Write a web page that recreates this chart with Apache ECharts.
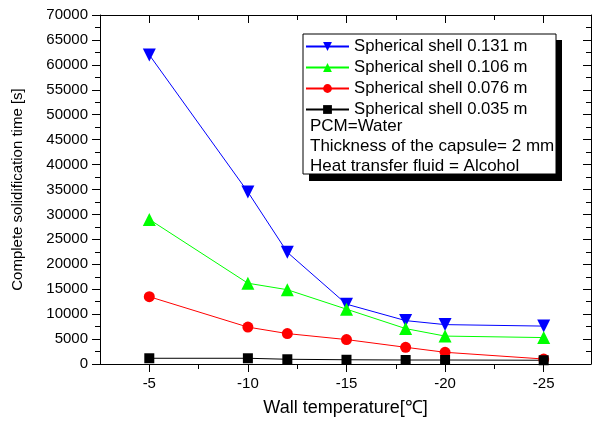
<!DOCTYPE html>
<html>
<head>
<meta charset="utf-8">
<script src="https://cdn.jsdelivr.net/npm/echarts@6/dist/echarts.min.js"></script>
<style>
  html, body { margin: 0; padding: 0; background: #fff; }
  #chart { width: 592px; height: 421px; }
</style>
</head>
<body>
<div id="chart"></div>
<script>
// wall temperatures (°C)
const temps = [-5, -10, -12, -15, -18, -20, -25];
const majorTicks = [-5, -10, -15, -20, -25];
const minorTicks = [-7.5, -12.5, -17.5, -22.5];

// complete solidification time [s]
const shell131 = [62000, 34500, 22400, 12000, 8700, 7900, 7600];
const shell106 = [29000, 16200, 14900, 11000, 7100, 5600, 5300];
const shell076 = [13500, 7400, 6100, 4900, 3350, 2350, 1000];
const shell035 = [1150, 1150, 950, 850, 800, 800, 750];

const seriesNames = ['Spherical shell 0.131 m', 'Spherical shell 0.106 m', 'Spherical shell 0.076 m', 'Spherical shell 0.035 m'];
const notes = ['PCM=Water', 'Thickness of the capsule= 2 mm', 'Heat transfer fluid = Alcohol'];

const font = "'Liberation Sans', Arial, sans-serif";
const xMin = -27.4, xMax = -2.5;

function pairs(vals) {
  return temps.map((t, i) => [t, vals[i]]);
}

const chart = echarts.init(document.getElementById('chart'));

const baseX = {
  type: 'value', min: xMin, max: xMax, inverse: true,
  splitLine: { show: false },
  axisLine: { lineStyle: { color: '#000', width: 1 } }
};

const option = {
  animation: false,
  textStyle: { fontFamily: font },
  grid: { left: 100, top: 15, width: 491, height: 349, outerBoundsMode: 'none', containLabel: false },
  xAxis: [
    Object.assign({}, baseX, {
      position: 'bottom',
      name: 'Wall temperature[\u2103]',
      nameLocation: 'middle', nameGap: 35,
      nameTextStyle: { color: '#000', fontSize: 18, fontFamily: font },
      axisTick: { customValues: majorTicks, length: 8, lineStyle: { color: '#000' } },
      axisLabel: { customValues: majorTicks, color: '#000', fontSize: 15, fontFamily: font, margin: 12 }
    }),
    Object.assign({}, baseX, {
      position: 'bottom',
      axisLine: { show: false },
      axisTick: { customValues: minorTicks, length: 5, lineStyle: { color: '#000' } },
      axisLabel: { show: false }
    }),
    Object.assign({}, baseX, {
      position: 'top',
      axisTick: { customValues: majorTicks, inside: true, length: 8, lineStyle: { color: '#000' } },
      axisLabel: { show: false }
    }),
    Object.assign({}, baseX, {
      position: 'top',
      axisLine: { show: false },
      axisTick: { customValues: minorTicks, inside: true, length: 5, lineStyle: { color: '#000' } },
      axisLabel: { show: false }
    })
  ],
  yAxis: [
    {
      type: 'value', min: 0, max: 70000, interval: 5000, position: 'left',
      name: 'Complete solidification time [s]',
      nameLocation: 'middle', nameGap: 75, nameRotate: 90,
      nameTextStyle: { color: '#000', fontSize: 15, fontFamily: font },
      splitLine: { show: false },
      axisLine: { show: true, lineStyle: { color: '#000' } },
      axisTick: { length: 8, lineStyle: { color: '#000' } },
      minorTick: { show: true, splitNumber: 2, length: 5, lineStyle: { color: '#000' } },
      axisLabel: { color: '#000', fontSize: 15, fontFamily: font, margin: 12, formatter: v => String(v) }
    },
    {
      type: 'value', min: 0, max: 70000, interval: 5000, position: 'right',
      splitLine: { show: false },
      axisLine: { show: true, lineStyle: { color: '#000' } },
      axisTick: { inside: true, length: 8, lineStyle: { color: '#000' } },
      minorTick: { show: true, splitNumber: 2, length: 5, lineStyle: { color: '#000' } },
      axisLabel: { show: false }
    }
  ],
  legend: {
    orient: 'vertical', left: 305, top: 38, z: 100, padding: 0,
    itemWidth: 43, itemHeight: 11, itemGap: 4,
    textStyle: { color: '#000', fontSize: 16.7, fontFamily: font, lineHeight: 16 },
    data: seriesNames
  },
  graphic: [
    { type: 'rect', z: 90, shape: { x: 309, y: 40, width: 253, height: 141 }, style: { fill: '#000' } },
    { type: 'rect', z: 91, shape: { x: 303, y: 34, width: 253, height: 140 }, style: { fill: '#fff', stroke: '#000', lineWidth: 1 } },
  ].concat(notes.map((t, i) => ({
    type: 'text', z: 92, left: 310, top: 118 + i * 19.7,
    style: { text: t, fill: '#000', fontSize: 17, fontFamily: font }
  }))),
  series: [
    { name: seriesNames[0], data: pairs(shell131), color: '#0000ff', symbol: 'triangle', symbolRotate: 180, symbolSize: 13 },
    { name: seriesNames[1], data: pairs(shell106), color: '#00ff00', symbol: 'triangle', symbolSize: 13 },
    { name: seriesNames[2], data: pairs(shell076), color: '#ff0000', symbol: 'circle', symbolSize: 11 },
    { name: seriesNames[3], data: pairs(shell035), color: '#000000', symbol: 'rect', symbolSize: 10 }
  ].map(s => Object.assign({
    type: 'line', xAxisIndex: 0, yAxisIndex: 0, showSymbol: true, z: 3,
    lineStyle: { width: 1 }, itemStyle: { opacity: 1 }
  }, s))
};

chart.setOption(option);
</script>
</body>
</html>
